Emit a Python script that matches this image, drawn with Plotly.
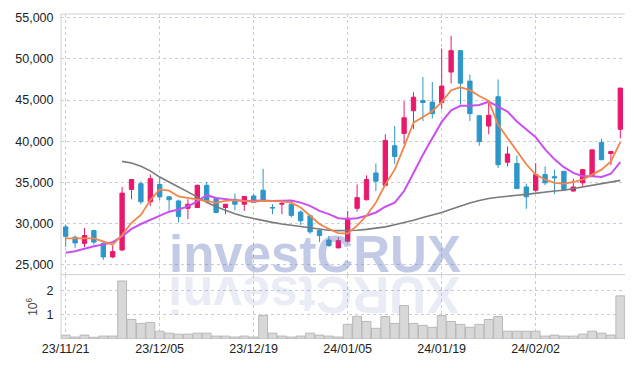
import plotly.graph_objects as go
from plotly.subplots import make_subplots

dates = ["23/11/21", "23/11/22", "23/11/23", "23/11/24", "23/11/27", "23/11/28", "23/11/29", "23/11/30",
         "23/12/01", "23/12/04", "23/12/05", "23/12/06", "23/12/07", "23/12/08", "23/12/11", "23/12/12",
         "23/12/13", "23/12/14", "23/12/15", "23/12/18", "23/12/19", "23/12/20", "23/12/21", "23/12/22",
         "23/12/26", "23/12/27", "23/12/28", "24/01/02", "24/01/03", "24/01/04", "24/01/05", "24/01/08",
         "24/01/09", "24/01/10", "24/01/11", "24/01/12", "24/01/15", "24/01/16", "24/01/17", "24/01/18",
         "24/01/19", "24/01/22", "24/01/23", "24/01/24", "24/01/25", "24/01/26", "24/01/29", "24/01/30",
         "24/01/31", "24/02/01", "24/02/02", "24/02/05", "24/02/06", "24/02/07", "24/02/08", "24/02/13",
         "24/02/14", "24/02/15", "24/02/16", "24/02/19"]

open_ = [29600, 28350, 27600, 29150, 27600, 25950, 26800, 34150, 34850, 32650,
         34750, 33250, 32750, 31850, 31950, 34650, 33050, 31950, 32950, 32350,
         33350, 34050, 31950, 32350, 32350, 31400, 30950, 29150, 28000, 27050,
         27850, 31850, 32900, 36150, 34650, 39450, 40950, 43700, 44950, 44750,
         44700, 48400, 51000, 47300, 43100, 41850, 45400, 37450, 37300, 34450,
         34050, 35950, 35700, 36350, 33950, 34950, 35850, 39850, 38500, 41450]
high = [29850, 28550, 29450, 29250, 27750, 27350, 34450, 35400, 35100, 35950,
        35550, 33350, 32900, 32950, 34750, 35050, 33200, 32400, 33650, 33350,
        33650, 36650, 32350, 32850, 32850, 31600, 31100, 29300, 28500, 28350,
        31550, 34750, 35850, 37300, 40850, 41850, 44850, 45950, 47800, 47200,
        51250, 52800, 51050, 48100, 43200, 44950, 47500, 39350, 38250, 34850,
        37350, 36950, 36550, 36400, 35450, 36650, 39050, 40300, 38800, 46500]
low = [27150, 27050, 27150, 27450, 25600, 25800, 26650, 32950, 32350, 32150,
       32850, 31550, 30150, 30550, 31900, 32700, 31250, 31150, 31600, 31550,
       32500, 32850, 31150, 31150, 30750, 29850, 28750, 27750, 27150, 27000,
       27750, 31450, 32800, 33950, 34550, 37250, 39650, 41500, 42450, 42750,
       43900, 47000, 44450, 42450, 39450, 40850, 36750, 36950, 34200, 31800,
       33800, 34650, 33600, 34100, 33900, 34550, 35800, 37750, 37100, 40350]
close = [28450, 27650, 28550, 27750, 25950, 26600, 33700, 35350, 32650, 35450,
         33250, 32900, 30850, 32350, 34650, 32750, 31350, 32350, 32350, 33300,
         32550, 32850, 31900, 32450, 31000, 30350, 29000, 28550, 27350, 27950,
         30650, 33150, 35350, 35150, 40100, 38150, 42850, 45350, 44700, 43350,
         46700, 51000, 47050, 43350, 39950, 43150, 37150, 38450, 34250, 33250,
         35950, 34950, 35550, 34150, 34450, 36550, 38950, 37750, 38750, 46450]

ma_short = [28200, 28200, 28200, 28200, 27850, 27450, 28600, 30100, 31050, 32850,
            34150, 34000, 33300, 33100, 32950, 32750, 32550, 32750, 32850, 32750,
            32650, 32750, 32700, 32700, 32550, 31950, 30950, 29950, 29350, 28850,
            28800, 29750, 30950, 32550, 34750, 36550, 39350, 42250, 42950, 43650,
            44750, 46200, 46550, 46200, 45500, 44900, 42000, 40400, 38700, 37200,
            35950, 35350, 34950, 34850, 35050, 35350, 35950, 36550, 37550, 39900]
ma_mid = [26450, 26650, 26950, 27250, 27450, 27750, 28450, 29350, 29950, 30450,
          30900, 31450, 31700, 32100, 32700, 33450, 33100, 32950, 32850, 32750,
          32800, 32800, 32750, 32800, 32800, 32550, 32150, 31550, 31150, 30650,
          30550, 30650, 30950, 31350, 32050, 32550, 33950, 36150, 38350, 40350,
          42350, 43750, 44300, 44300, 44400, 44800, 44200, 43600, 42400, 41400,
          40500, 39000, 37800, 36850, 36150, 35750, 35750, 35650, 36050, 37450]
ma_long = [None, None, None, None, None, None, 37550, 37350, 36950, 36400,
           35650, 35000, 34450, 33850, 33200, 32600, 32050, 31600, 31200, 30850,
           30600, 30350, 30150, 29950, 29800, 29600, 29450, 29300, 29200, 29150,
           29150, 29200, 29300, 29450, 29600, 29850, 30100, 30400, 30750, 31050,
           31350, 31750, 32150, 32500, 32800, 33050, 33200, 33350, 33450, 33550,
           33700, 33800, 33950, 34050, 34250, 34400, 34600, 34800, 35000, 35250]

volume = [160000, 80000, 160000, 70000, 120000, 120000, 2380000, 800000, 640000, 680000,
          320000, 240000, 200000, 200000, 240000, 240000, 120000, 120000, 80000, 120000,
          80000, 960000, 240000, 120000, 80000, 120000, 240000, 160000, 120000, 80000,
          600000, 930000, 720000, 440000, 920000, 640000, 1370000, 640000, 560000, 480000,
          960000, 720000, 600000, 480000, 600000, 800000, 920000, 320000, 320000, 320000,
          320000, 120000, 160000, 120000, 120000, 200000, 320000, 240000, 160000, 1770000]

tick_labels = ["23/11/21", "23/12/05", "23/12/19", "24/01/05", "24/01/19", "24/02/02"]
price_ticks = [25000, 30000, 35000, 40000, 45000, 50000, 55000]
vol_ticks = [1000000, 2000000]
vol_tick_text = ["1", "2"]
watermark = "investCRUX"

RED = "#e8196b"
BLUE = "#2e96c8"
GRID = "#c9cce0"
FONT = "Liberation Sans"

vol_frac = 0.198

fig = make_subplots(rows=2, cols=1, shared_xaxes=True, vertical_spacing=0)

fig.add_trace(go.Candlestick(
    x=dates, open=open_, high=high, low=low, close=close,
    increasing=dict(fillcolor=RED, line=dict(color=RED, width=1)),
    decreasing=dict(fillcolor=BLUE, line=dict(color=BLUE, width=1)),
    whiskerwidth=0, showlegend=False, hoverinfo="skip"), row=1, col=1)

fig.add_trace(go.Scatter(x=dates, y=ma_long, mode="lines",
                         line=dict(color="#7a7a7a", width=1.6), showlegend=False), row=1, col=1)
fig.add_trace(go.Scatter(x=dates, y=ma_mid, mode="lines",
                         line=dict(color="#c94ff0", width=2), showlegend=False), row=1, col=1)
fig.add_trace(go.Scatter(x=dates, y=ma_short, mode="lines",
                         line=dict(color="#f0854d", width=1.8), showlegend=False), row=1, col=1)

fig.add_trace(go.Bar(x=dates, y=volume, marker=dict(color="#d8d8d8", line=dict(color="#b8b8b8", width=1)),
                     showlegend=False), row=2, col=1)

# page body has an 8px margin: figure is shrunk and shifted so the plot lands where the reference has it
fig.update_layout(
    width=626, height=360,
    margin=dict(l=53, r=9, t=3, b=29),
    paper_bgcolor="white", plot_bgcolor="white",
    font=dict(family=FONT, size=12.5, color="#222"),
    bargap=0.06, boxgap=0.34,
    showlegend=False,
)

xaxis_common = dict(type="category", categoryorder="array", categoryarray=dates,
                    range=[-0.5, len(dates) - 0.5], showgrid=True, gridcolor=GRID, griddash="dot",
                    gridwidth=1, tickmode="array", tickvals=tick_labels, zeroline=False,
                    showline=False, ticks="")
fig.update_xaxes(**xaxis_common, rangeslider=dict(visible=False), showticklabels=False, row=1, col=1)
fig.update_xaxes(**xaxis_common, ticktext=tick_labels, showticklabels=True,
                 tickfont=dict(size=12.5, color="#222"), row=2, col=1)

fig.update_yaxes(domain=[vol_frac, 1], range=[23800, 55450], tickvals=price_ticks, tickformat=",d",
                 showgrid=True, gridcolor=GRID, griddash="dot", zeroline=False, showline=False,
                 ticks="outside", ticklen=4, tickcolor="rgba(0,0,0,0)",
                 tickfont=dict(size=12.5, color="#222"), row=1, col=1)
fig.update_yaxes(domain=[0, vol_frac], range=[0, 2640000], tickvals=vol_ticks, ticktext=vol_tick_text,
                 showgrid=True, gridcolor=GRID, griddash="dot", zeroline=False, showline=False,
                 ticks="outside", ticklen=4, tickcolor="rgba(0,0,0,0)",
                 title=dict(text="10<sup>6</sup>", font=dict(size=12, color="#444"), standoff=6),
                 tickfont=dict(size=12.5, color="#222"), row=2, col=1)

# frame lines
for shp in [dict(x0=0, x1=1, y0=1, y1=1), dict(x0=0, x1=1, y0=vol_frac, y1=vol_frac),
            dict(x0=0, x1=0, y0=0, y1=1)]:
    fig.add_shape(type="line", xref="paper", yref="paper", line=dict(color="#cfcfcf", width=1), **shp)

# watermark and its reflection
fig.add_annotation(xref="paper", yref="paper", x=0.4495, y=vol_frac, yanchor="bottom", yshift=-10,
                   text="<b>" + watermark + "</b>", showarrow=False,
                   font=dict(family=FONT, size=51, color="rgba(105,122,190,0.40)"))
fig.add_annotation(xref="paper", yref="paper", x=0.4495, y=vol_frac, yanchor="top", yshift=10,
                   text="<b>" + watermark[::-1] + "</b>", textangle=180, showarrow=False,
                   font=dict(family=FONT, size=51, color="rgba(105,122,190,0.15)"))

fig.write_html("out.html")
